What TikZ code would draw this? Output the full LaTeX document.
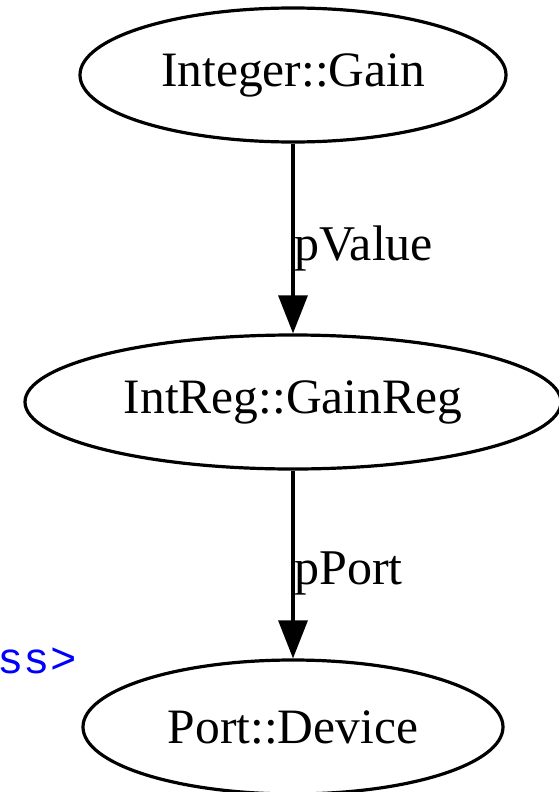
\documentclass[tikz,border=0pt]{standalone}
\usepackage{fontspec}
\setmainfont{Liberation Serif}
\newfontfamily\monofam{Liberation Mono}
\usetikzlibrary{shapes.geometric,arrows.meta}
\begin{document}
\begin{tikzpicture}[x=1pt,y=1pt,
  state/.style={ellipse,draw,line width=3.2pt,inner sep=0pt,
    minimum height=134pt,font=\fontsize{49.5}{58}\selectfont},
  link/.style={line width=3.2pt,-{Triangle[length=38pt,width=29pt]}},
  linklabel/.style={anchor=base west,inner sep=0pt,font=\fontsize{50}{58}\selectfont},
  stereo/.style={anchor=base east,inner sep=0pt,text=blue,font=\monofam\fontsize{44}{52}\selectfont}]
  \useasboundingbox (0,0) rectangle (559,-792);
  % class nodes
  \node[state,minimum width=426pt] (gain) at (293,-75) {Integer::Gain};
  \node[state,minimum width=536pt] (gainreg) at (293,-402) {IntReg::GainReg};
  \node[state,minimum width=420pt] (device) at (293,-727) {Port::Device};
  % association labels
  \node[linklabel] (lvalue) at (294,-260) {pValue};
  \node[linklabel] (lport) at (294,-584) {pPort};
  % stereotype fragment at the left edge
  \node[stereo] (st) at (77,-673) {ss>};
  % associations
  \draw[link] (gain) -- (gainreg);
  \draw[link] (gainreg) -- (device);
\end{tikzpicture}
\end{document}
